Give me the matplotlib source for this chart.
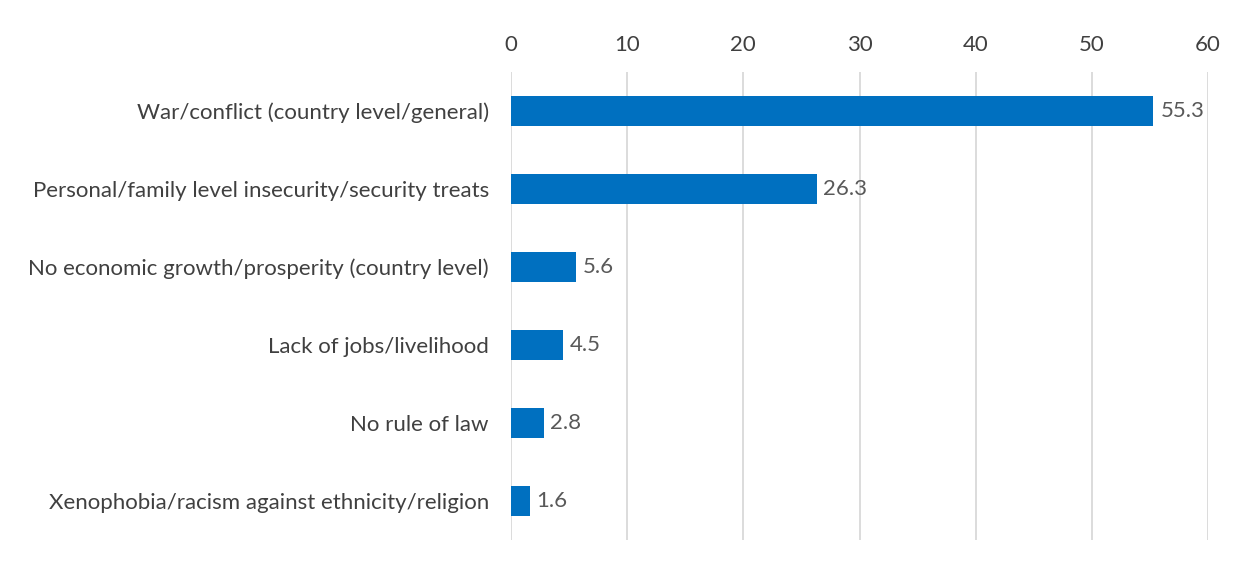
import matplotlib.pyplot as plt

# data
categories = ["War/conflict (country level/general)",
              "Personal/family level insecurity/security treats",
              "No economic growth/prosperity (country level)",
              "Lack of jobs/livelihood",
              "No rule of law",
              "Xenophobia/racism against ethnicity/religion"]
values = [55.3, 26.3, 5.6, 4.5, 2.8, 1.6]
xticks = [0, 10, 20, 30, 40, 50, 60]

plt.rcParams['font.family'] = ['Lato', 'DejaVu Sans']

fig = plt.figure(figsize=(12.48, 5.63), dpi=100)
ax = fig.add_axes([511 / 1248, 1 - 540 / 563, (1208 - 511) / 1248, 468 / 563])

ypos = list(range(len(categories)))
ax.barh(ypos, values, height=0.385, color='#0070C0', zorder=3)
for y, v in zip(ypos, values):
    ax.text(v + 0.6, y, f"{v:.1f}", va='center', ha='left', fontsize=16, color='#595959', zorder=4)

ax.set_ylim(5.5, -0.5)
ax.set_xlim(0, 60)
ax.set_xticks(xticks)
ax.set_yticks(ypos)
ax.set_yticklabels(categories)
ax.xaxis.tick_top()
ax.tick_params(axis='x', length=0, pad=12, labelsize=16, labelcolor='#404040')
ax.tick_params(axis='y', length=0, pad=16, labelsize=16, labelcolor='#404040')
ax.grid(axis='x', color='#D9D9D9', linewidth=1.3, zorder=0)
for s in ax.spines.values():
    s.set_visible(False)

fig.savefig("out.png", dpi=100)
